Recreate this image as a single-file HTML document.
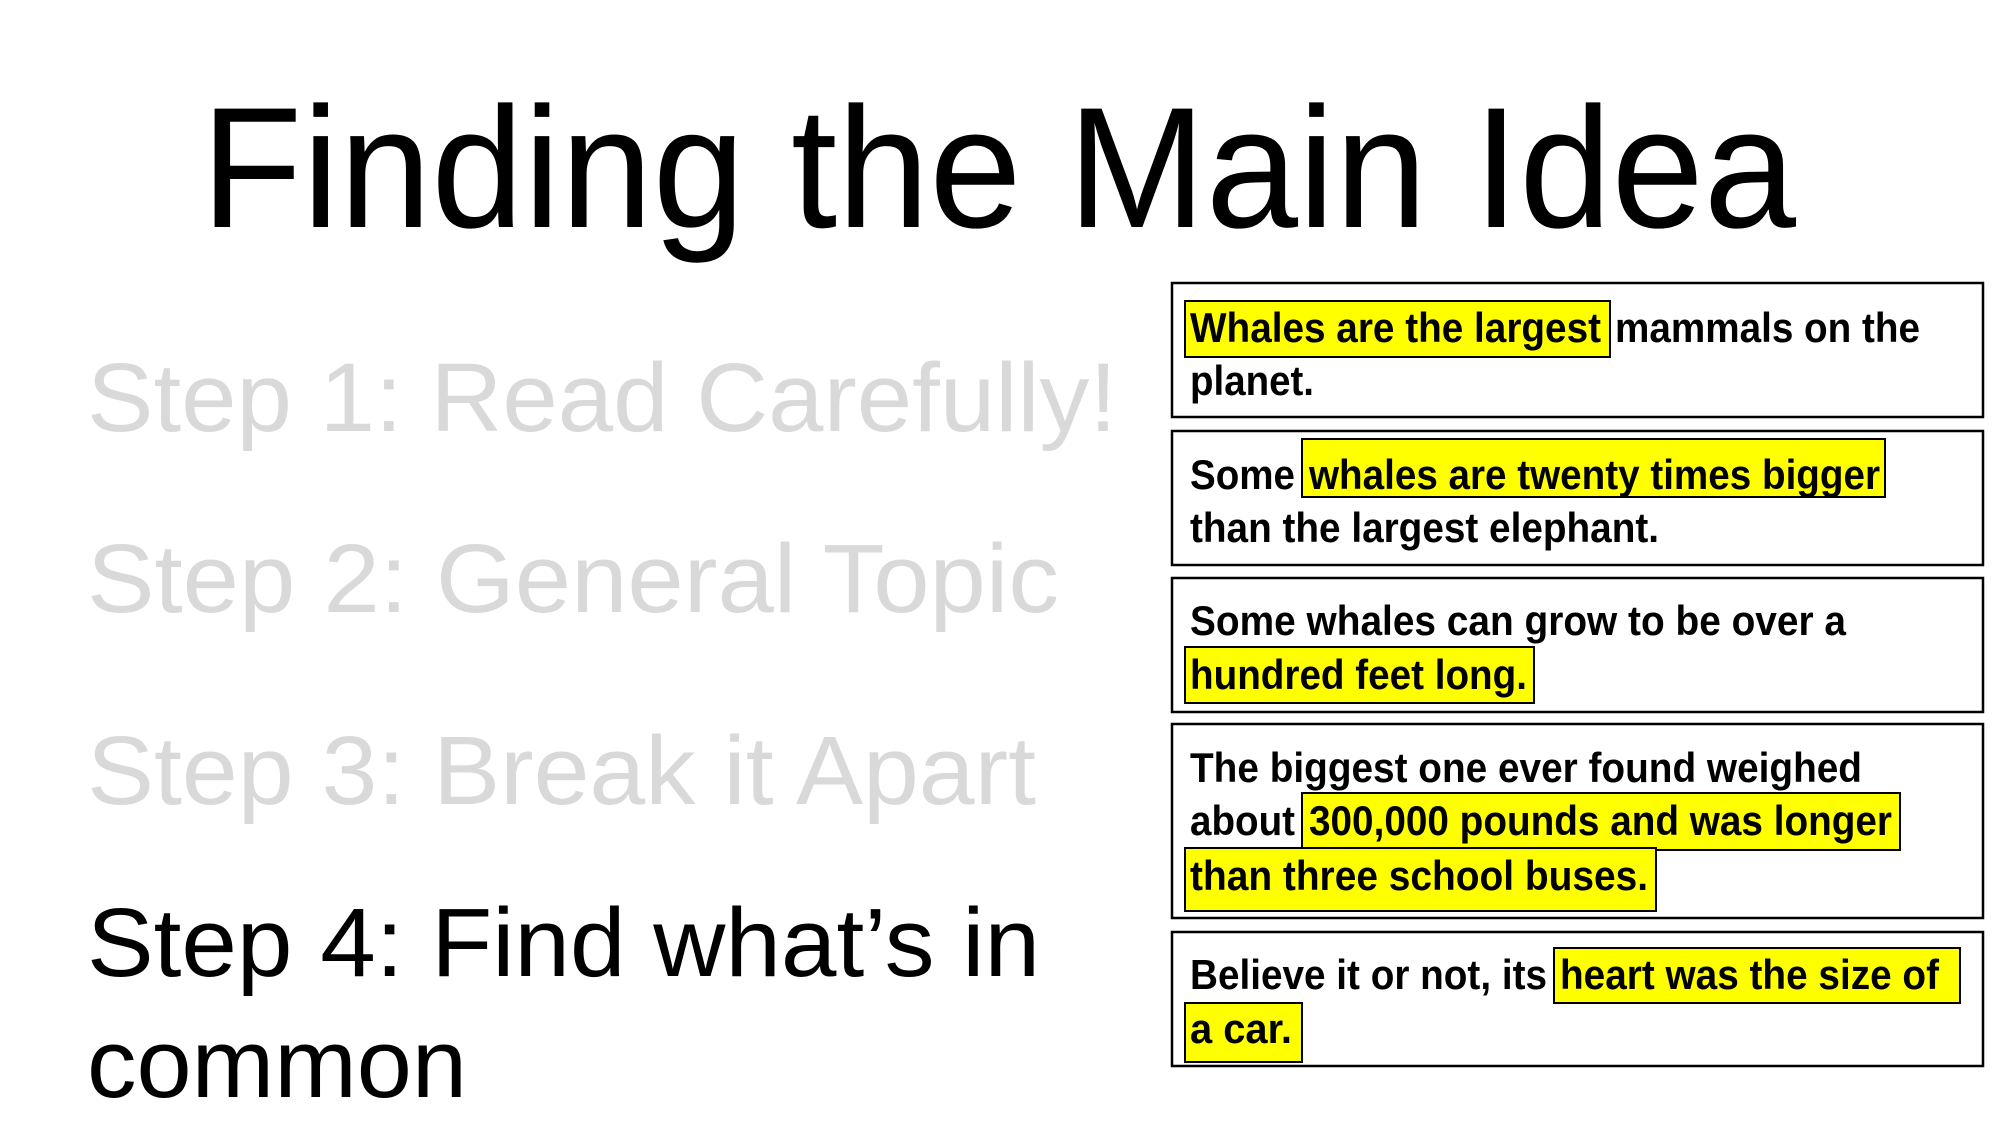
<!DOCTYPE html>
<html><head><meta charset="utf-8"><style>html,body{margin:0;padding:0;background:#fff}svg{display:block}</style></head>
<body>
<svg width="2000" height="1125" viewBox="0 0 2000 1125" xmlns="http://www.w3.org/2000/svg" font-family="Liberation Sans, Arial, sans-serif">
<rect width="2000" height="1125" fill="#fff"/>
<text x="201" y="227" font-size="172" textLength="1595" lengthAdjust="spacingAndGlyphs">Finding the Main Idea</text>
<g font-size="97" fill="#d9d9d9">
<text x="87" y="431" textLength="1030" lengthAdjust="spacingAndGlyphs">Step 1: Read Carefully!</text>
<text x="87" y="612" textLength="972" lengthAdjust="spacingAndGlyphs">Step 2: General Topic</text>
<text x="87" y="804" textLength="949" lengthAdjust="spacingAndGlyphs">Step 3: Break it Apart</text>
</g>
<g font-size="97" fill="#000">
<text x="87" y="976" textLength="953" lengthAdjust="spacingAndGlyphs">Step 4: Find what’s in</text>
<text x="87" y="1097" textLength="380" lengthAdjust="spacingAndGlyphs">common</text>
</g>
<g fill="#fff" stroke="#000" stroke-width="2.5">
<rect x="1172" y="283" width="811" height="134"/>
<rect x="1172" y="431" width="811" height="134"/>
<rect x="1172" y="578" width="811" height="134"/>
<rect x="1172" y="724" width="811" height="194"/>
<rect x="1172" y="932" width="811" height="134"/>
</g>
<g fill="#ffff00" stroke="#000" stroke-width="2">
<rect x="1185" y="301" width="425" height="56"/>
<rect x="1302" y="439" width="583" height="58"/>
<rect x="1185" y="647" width="349" height="56"/>
<rect x="1302" y="793" width="598" height="57"/>
<rect x="1185" y="848" width="471" height="63"/>
<rect x="1554" y="948" width="406" height="55"/>
<rect x="1185" y="1003" width="117" height="59"/>
</g>
<g font-size="42" font-weight="bold" fill="#000">
<text x="1190" y="342" textLength="411" lengthAdjust="spacingAndGlyphs">Whales are the largest</text>
<text x="1615" y="342" textLength="305" lengthAdjust="spacingAndGlyphs">mammals on the</text>
<text x="1190" y="395" textLength="124" lengthAdjust="spacingAndGlyphs">planet.</text>
<text x="1190" y="489" textLength="105" lengthAdjust="spacingAndGlyphs">Some</text>
<text x="1309" y="489" textLength="571" lengthAdjust="spacingAndGlyphs">whales are twenty times bigger</text>
<text x="1190" y="542" textLength="469" lengthAdjust="spacingAndGlyphs">than the largest elephant.</text>
<text x="1190" y="635" textLength="656" lengthAdjust="spacingAndGlyphs">Some whales can grow to be over a</text>
<text x="1190" y="689" textLength="337" lengthAdjust="spacingAndGlyphs">hundred feet long.</text>
<text x="1190" y="782" textLength="672" lengthAdjust="spacingAndGlyphs">The biggest one ever found weighed</text>
<text x="1190" y="835" textLength="105" lengthAdjust="spacingAndGlyphs">about</text>
<text x="1309" y="835" textLength="583" lengthAdjust="spacingAndGlyphs">300,000 pounds and was longer</text>
<text x="1190" y="890" textLength="458" lengthAdjust="spacingAndGlyphs">than three school buses.</text>
<text x="1190" y="989" textLength="357" lengthAdjust="spacingAndGlyphs">Believe it or not, its</text>
<text x="1560" y="989" textLength="379" lengthAdjust="spacingAndGlyphs">heart was the size of</text>
<text x="1190" y="1043" textLength="102" lengthAdjust="spacingAndGlyphs">a car.</text>
</g>
</svg>
</body></html>
